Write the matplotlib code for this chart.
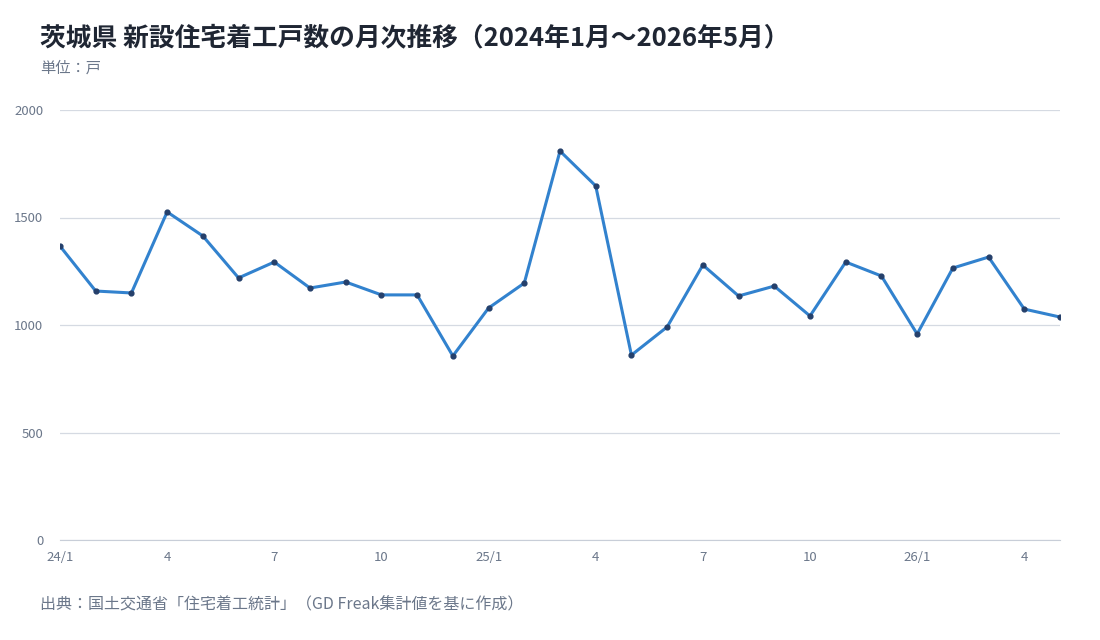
import matplotlib
matplotlib.use("Agg")
import matplotlib.pyplot as plt

plt.rcParams['font.family'] = ['Noto Sans CJK JP', 'DejaVu Sans']

months = ["24/1","2","3","4","5","6","7","8","9","10","11","12",
          "25/1","2","3","4","5","6","7","8","9","10","11","12",
          "26/1","2","3","4","5"]
values = [1367,1158,1149,1526,1414,1219,1293,1172,1200,1140,1140,856,
          1079,1195,1809,1647,860,991,1279,1135,1181,1042,1293,1228,
          958,1265,1316,1074,1037]
yticks = [0,500,1000,1500,2000]

fig = plt.figure(figsize=(11,6.4), dpi=100)
ax = fig.add_axes([60/1100, 100/640, 1000/1100, 430/640])
x = list(range(len(values)))
ax.plot(x, values, color="#3282ce", lw=2.2, zorder=3)
ax.scatter(x, values, s=12, color="#25406b", zorder=4)
ax.set_xlim(0, len(values)-1)
ax.set_ylim(0, 2000)
ax.set_yticks(yticks)
ax.set_xticks(x[::3])
ax.set_xticklabels(months[::3])
ax.grid(axis='y', color="#d5dae2", lw=0.9)
ax.set_axisbelow(True)
for s in ['top','right','left']:
    ax.spines[s].set_visible(False)
ax.spines['bottom'].set_color("#c8ced8")
ax.tick_params(axis='both', length=0, colors="#6b778a", labelsize=9.5)
ax.tick_params(axis='x', pad=8)
ax.tick_params(axis='y', pad=12)

fig.text(40/1100, 1-38/640, "茨城県 新設住宅着工戸数の月次推移（2024年1月〜2026年5月）",
         fontsize=18.5, fontweight='bold', color="#1f2633", va='center')
fig.text(40/1100, 1-68/640, "単位：戸", fontsize=11, color="#6b778a", va='center')
fig.text(40/1100, 1-605/640, "出典：国土交通省「住宅着工統計」（GD Freak集計値を基に作成）",
         fontsize=11.5, color="#6b778a", va='center')
fig.savefig("out.png", dpi=100)
